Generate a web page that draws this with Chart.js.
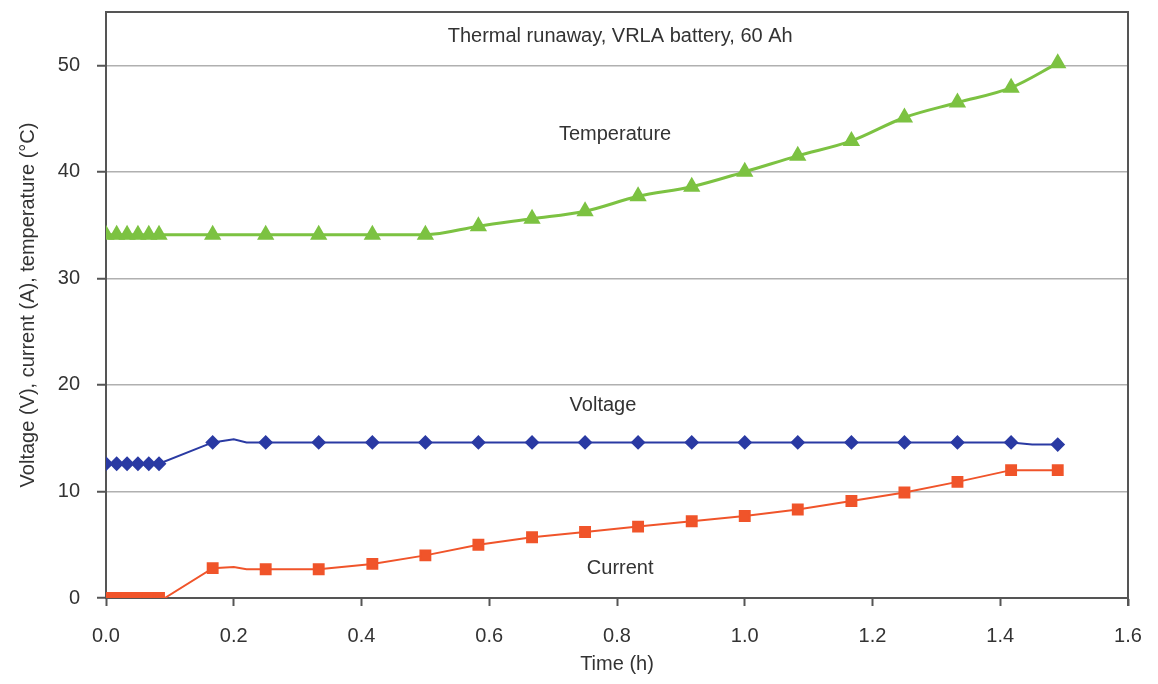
<!DOCTYPE html>
<html>
<head>
<meta charset="utf-8">
<script src="https://cdn.jsdelivr.net/npm/chart.js@4.4.1/dist/chart.umd.min.js"></script>
<style>
  html, body { margin: 0; padding: 0; background: #fff; }
  #wrap { width: 1158px; height: 684px; }
</style>
</head>
<body>
<div id="wrap"><canvas id="chart1"></canvas></div>
<script>
// time (h), readings roughly every minute at start then every 5 min
var tempTime = [0, 0.0167, 0.033, 0.05, 0.067, 0.083, 0.167, 0.25, 0.333, 0.417, 0.5, 0.583, 0.667, 0.75, 0.833, 0.917, 1.0, 1.083, 1.167, 1.25, 1.333, 1.417, 1.49];
var temperature = [34.1, 34.1, 34.1, 34.1, 34.1, 34.1, 34.1, 34.1, 34.1, 34.1, 34.1, 34.9, 35.6, 36.3, 37.7, 38.6, 40.0, 41.5, 42.9, 45.1, 46.5, 47.9, 50.2];

// voltage & current have a couple of unmarked points in the line
var vTime = [0, 0.0167, 0.033, 0.05, 0.067, 0.083, 0.167, 0.2, 0.22, 0.25, 0.333, 0.417, 0.5, 0.583, 0.667, 0.75, 0.833, 0.917, 1.0, 1.083, 1.167, 1.25, 1.333, 1.417, 1.45, 1.49];
var voltage = [12.6, 12.6, 12.6, 12.6, 12.6, 12.6, 14.6, 14.9, 14.6, 14.6, 14.6, 14.6, 14.6, 14.6, 14.6, 14.6, 14.6, 14.6, 14.6, 14.6, 14.6, 14.6, 14.6, 14.6, 14.4, 14.4];
var vMarked = [1, 1, 1, 1, 1, 1, 1, 0, 0, 1, 1, 1, 1, 1, 1, 1, 1, 1, 1, 1, 1, 1, 1, 1, 0, 1];

var cTime = [0, 0.0167, 0.033, 0.05, 0.067, 0.083, 0.092, 0.167, 0.2, 0.22, 0.25, 0.333, 0.417, 0.5, 0.583, 0.667, 0.75, 0.833, 0.917, 1.0, 1.083, 1.167, 1.25, 1.333, 1.417, 1.49];
var current = [0, 0, 0, 0, 0, 0, 0, 2.8, 2.9, 2.7, 2.7, 2.7, 3.2, 4.0, 5.0, 5.7, 6.2, 6.7, 7.2, 7.7, 8.3, 9.1, 9.9, 10.9, 12.0, 12.0];
var cMarked = [1, 1, 1, 1, 1, 1, 0, 1, 0, 0, 1, 1, 1, 1, 1, 1, 1, 1, 1, 1, 1, 1, 1, 1, 1, 1];

var xTicks = [0, 0.2, 0.4, 0.6, 0.8, 1.0, 1.2, 1.4, 1.6];
var yTicks = [0, 10, 20, 30, 40, 50];

// in-plot labels: [text, time, value]
var notes = [
  ['Thermal runaway, VRLA battery, 60 Ah', 0.805, 52.7],
  ['Temperature', 0.797, 43.5],
  ['Voltage', 0.778, 18.1],
  ['Current', 0.805, 2.8]
];

function pts(xs, ys) {
  return xs.map(function(x, i) { return {x: x, y: ys[i]}; });
}

var noteLabels = {
  id: 'noteLabels',
  afterDraw: function(chart) {
    var c = chart.ctx, a = chart.chartArea;
    var xs = chart.scales.x, ys = chart.scales.y;
    c.save();
    // frame top + right
    c.strokeStyle = '#555';
    c.lineWidth = 2;
    c.beginPath();
    c.moveTo(a.left, a.top);
    c.lineTo(a.right, a.top);
    c.lineTo(a.right, a.bottom + 8);
    c.stroke();
    c.fillStyle = '#333';
    c.font = '20px "Liberation Sans", Arial, sans-serif';
    c.textAlign = 'center';
    c.textBaseline = 'middle';
    notes.forEach(function(n) {
      c.fillText(n[0], xs.getPixelForValue(n[1]), ys.getPixelForValue(n[2]));
    });
    c.restore();
  }
};

Chart.defaults.font.family = '"Liberation Sans", Arial, sans-serif';
Chart.defaults.color = '#333';

var ctx = document.getElementById('chart1').getContext('2d');
var myChart = new Chart(ctx, {
  type: 'line',
  data: {
    datasets: [{
      label: 'Temperature',
      data: pts(tempTime, temperature),
      borderColor: '#7cc242',
      backgroundColor: '#7cc242',
      borderWidth: 3,
      pointStyle: 'triangle',
      pointRadius: 7,
      cubicInterpolationMode: 'monotone'
    }, {
      label: 'Voltage',
      data: pts(vTime, voltage),
      borderColor: '#2a3aa3',
      backgroundColor: '#2a3aa3',
      borderWidth: 2,
      pointStyle: 'rectRot',
      pointRadius: vMarked.map(function(m) { return m ? 6 : 0; }),
      tension: 0
    }, {
      label: 'Current',
      data: pts(cTime, current),
      borderColor: '#f0542a',
      backgroundColor: '#f0542a',
      borderWidth: 2,
      pointStyle: 'rect',
      pointRadius: cMarked.map(function(m) { return m ? 7 : 0; }),
      tension: 0
    }]
  },
  options: {
    responsive: true,
    maintainAspectRatio: false,
    animation: false,
    layout: { padding: { left: 8, top: 12, right: 30, bottom: 2 } },
    plugins: {
      legend: { display: false },
      tooltip: { enabled: false }
    },
    scales: {
      x: {
        type: 'linear',
        min: 0,
        max: 1.6,
        afterBuildTicks: function(axis) {
          axis.ticks = xTicks.map(function(v) { return {value: v}; });
        },
        afterFit: function(axis) {
          axis.height = 84;
          axis.paddingLeft = 0;
          axis.paddingRight = 0;
        },
        ticks: {
          padding: 18,
          font: { size: 20 },
          color: '#333',
          callback: function(v) { return Number(v).toFixed(1); }
        },
        grid: {
          drawOnChartArea: false,
          tickLength: 8,
          tickColor: '#555',
          tickWidth: 2
        },
        border: { color: '#555', width: 2 },
        title: {
          display: true,
          text: 'Time (h)',
          font: { size: 20 },
          color: '#333',
          padding: { top: 0, bottom: 6 }
        }
      },
      y: {
        min: 0,
        max: 55,
        afterBuildTicks: function(axis) {
          axis.ticks = yTicks.map(function(v) { return {value: v}; });
        },
        afterFit: function(axis) {
          axis.width = 98;
          axis.paddingTop = 0;
          axis.paddingBottom = 0;
        },
        ticks: {
          padding: 17,
          font: { size: 20 },
          color: '#333'
        },
        grid: {
          color: '#b0b0b0',
          lineWidth: 1.5,
          tickLength: 9,
          tickColor: '#555',
          tickWidth: 2
        },
        border: { color: '#555', width: 2 },
        title: {
          display: true,
          text: 'Voltage (V), current (A), temperature (\u00b0C)',
          font: { size: 20 },
          color: '#333',
          padding: { top: 8, bottom: 0 }
        }
      }
    }
  },
  plugins: [noteLabels]
});
</script>
</body>
</html>
